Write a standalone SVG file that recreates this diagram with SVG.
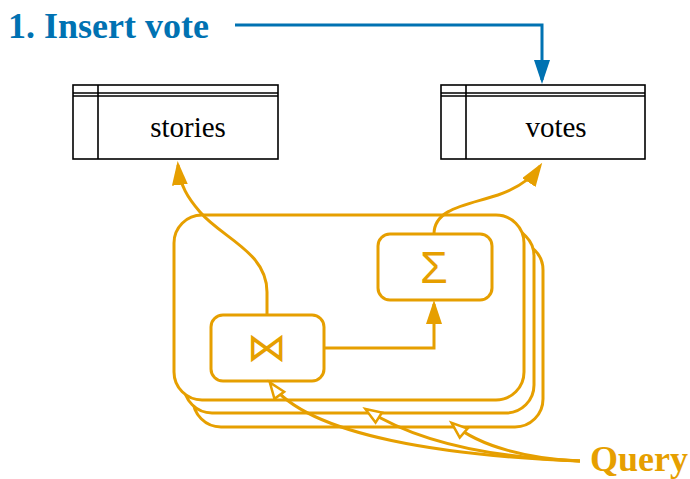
<svg xmlns="http://www.w3.org/2000/svg" width="690" height="479" viewBox="0 0 690 479">
<style>
.tbl{fill:#fff;stroke:#000;stroke-width:1.6}
.tl{stroke:#000;stroke-width:1.6;fill:none}
.tt{font-size:29px;fill:#000;text-anchor:middle}
.inst{fill:#fff;stroke:#E69F00;stroke-width:3}
.op{fill:#fff;stroke:#E69F00;stroke-width:3}
.oc{fill:none;stroke:#E69F00;stroke-width:3}
.bc{fill:none;stroke:#0072B2;stroke-width:3}
.lbl{font-size:36px;font-weight:bold}
.sym{fill:#E69F00;text-anchor:middle}
</style>
<defs>
<marker id="ao" markerUnits="userSpaceOnUse" markerWidth="26" markerHeight="18" refX="20" refY="8" orient="auto"><path d="M0,0 L24,8 L0,16 z" fill="#E69F00"/></marker>
<marker id="ab" markerUnits="userSpaceOnUse" markerWidth="26" markerHeight="18" refX="20" refY="8" orient="auto"><path d="M0,0 L24,8 L0,16 z" fill="#0072B2"/></marker>
<marker id="ah" markerUnits="userSpaceOnUse" markerWidth="22" markerHeight="18" refX="16" refY="8" orient="auto"><path d="M2,2 L18,8 L2,14 z" fill="#fff" stroke="#E69F00" stroke-width="2.5" stroke-linejoin="miter"/></marker>
</defs>
<g id="stories">
<rect class="tbl" x="73" y="85" width="205" height="74"/>
<path class="tl" d="M73,93 H278 M73,96 H278 M98,85 V159"/>
<text class="tt" x="188" y="137" font-family="Liberation Serif, Times New Roman, serif">stories</text>
</g>
<g id="votes">
<rect class="tbl" x="441" y="85" width="204" height="74"/>
<path class="tl" d="M441,93 H645 M441,96 H645 M466,85 V159"/>
<text class="tt" x="556" y="137" font-family="Liberation Serif, Times New Roman, serif">votes</text>
</g>
<g id="label-insert">
<text class="lbl" x="8" y="38" fill="#0072B2" font-family="Liberation Serif, Times New Roman, serif">1. Insert vote</text>
</g>
<g id="instances">
<rect class="inst" x="193" y="242" width="350" height="185" rx="28"/>
<rect class="inst" x="184" y="228" width="350" height="185" rx="28"/>
<rect class="inst" x="174" y="215" width="350" height="185" rx="28"/>
</g>
<g id="join">
<rect class="op" x="211" y="315" width="113" height="66" rx="12"/>
<text class="sym" x="267" y="361" font-size="40" font-family="DejaVu Sans, sans-serif">⋈</text>
</g>
<g id="sum">
<rect class="op" x="378" y="234" width="114" height="66" rx="12"/>
<text class="sym" x="434" y="283" font-size="45" font-family="Liberation Sans, Arial, sans-serif">Σ</text>
</g>
<g id="query-label">
<text class="lbl" x="590" y="471" fill="#E69F00" font-family="Liberation Serif, Times New Roman, serif">Query</text>
</g>
<g id="connectors">
<path class="bc" d="M235,25 H542 V80" marker-end="url(#ab)"/>
<path class="oc" d="M267,315 V292 C267,252 222,238 200,212 C188,198 180,186 178,165" marker-end="url(#ao)"/>
<path class="oc" d="M434,234 C434,208 468,205 498,195 C518,188 532,178 540,166" marker-end="url(#ao)"/>
<path class="oc" d="M324,348 H434 V304" marker-end="url(#ao)"/>
<path class="oc" d="M580,461 C450,456 310,437 271,384" marker-end="url(#ah)"/>
<path class="oc" d="M580,461 C500,458 420,444 367,410" marker-end="url(#ah)"/>
<path class="oc" d="M580,461 C530,459 480,447 453,424" marker-end="url(#ah)"/>
</g>
</svg>
